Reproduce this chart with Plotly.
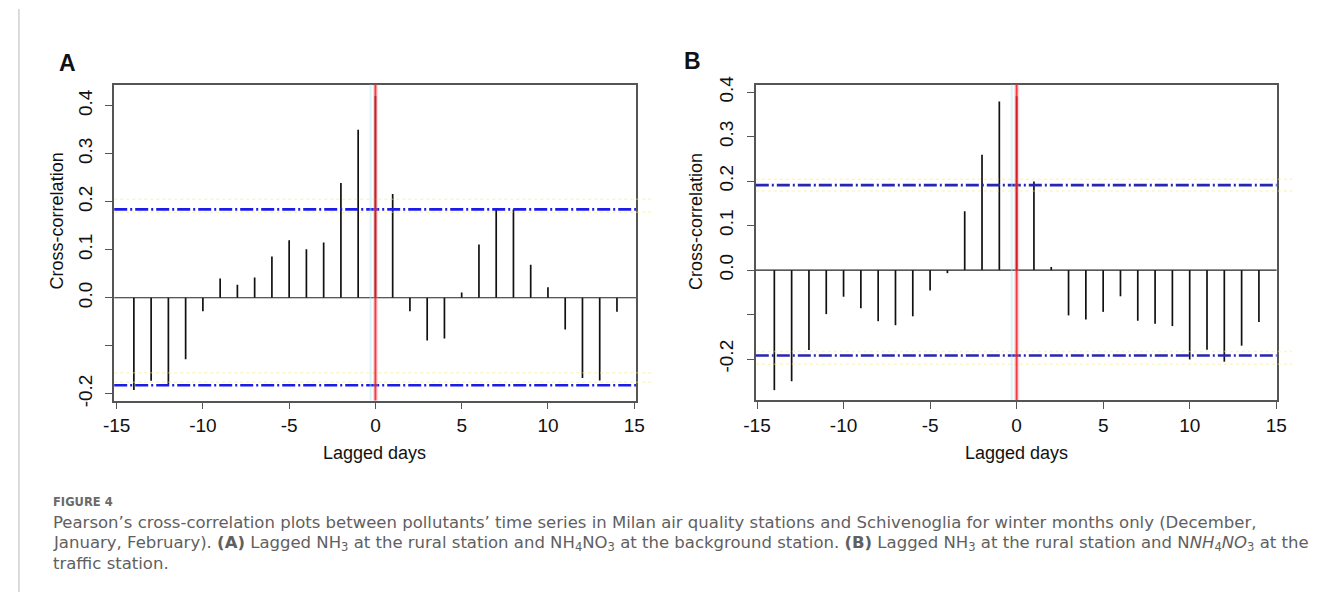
import plotly.graph_objects as go

W, H = 1319, 599

# Lags (days) and cross-correlation coefficients
lags = list(range(-14, 15))

ccf_a = [-0.192, -0.173, -0.180, -0.128, -0.028, 0.040, 0.027, 0.042, 0.086, 0.120,
         0.101, 0.115, 0.239, 0.350, 0.420, 0.216, -0.028, -0.089, -0.085, 0.011,
         0.111, 0.184, 0.184, 0.069, 0.022, -0.066, -0.167, -0.172, -0.029]

ccf_b = [-0.270, -0.250, -0.180, -0.099, -0.060, -0.086, -0.115, -0.124, -0.104, -0.046,
         -0.007, 0.132, 0.259, 0.379, 0.391, 0.199, 0.007, -0.102, -0.111, -0.094,
         -0.059, -0.114, -0.121, -0.126, -0.201, -0.179, -0.206, -0.170, -0.117]

# Significance bounds
ci_a = [0.184, -0.182]
ci_b = [0.191, -0.192]

x_ticks = [-15, -10, -5, 0, 5, 10, 15]
x_ticktext = ["-15", "-10", "-5", "0", "5", "10", "15"]
y_ticks = [-0.2, -0.1, 0.0, 0.1, 0.2, 0.3, 0.4]
y_ticktext = ["-0.2", "", "0.0", "0.1", "0.2", "0.3", "0.4"]


def px_x(p):
    return p / W


def px_y(p):
    return 1 - p / H


def stems(xs, ys):
    sx, sy = [], []
    for x, y in zip(xs, ys):
        sx += [x, x, None]
        sy += [0, y, None]
    return sx, sy


fig = go.Figure()

panels = [
    dict(vals=ccf_a, ci=ci_a, xa="x", ya="y", xdom=(103, 634), ydom=(77.7, 402.3),
         xr=[-15.14, 15.1], yr=[-0.214, 0.4438], blue="#1c1ce8",
         yel=[0.205, 0.178, -0.156, -0.176]),
    dict(vals=ccf_b, ci=ci_b, xa="x2", ya="y2", xdom=(756, 1286), ydom=(77.7, 401.7),
         xr=[-15.07, 15.02], yr=[-0.2921, 0.4169], blue="#2626b0",
         yel=[0.204, 0.178, -0.183, -0.212]),
]

sans = "Liberation Sans, Arial, Helvetica, sans-serif"
font_tick = dict(family=sans, size=19, color="#111")

for i, p in enumerate(panels):
    sx, sy = stems(lags, p["vals"])
    fig.add_trace(go.Scatter(x=sx, y=sy, mode="lines", xaxis=p["xa"], yaxis=p["ya"],
                             line=dict(color="#111", width=1.7), hoverinfo="skip",
                             showlegend=False))
    sfx = "" if i == 0 else "2"
    fig.layout["xaxis" + sfx] = dict(
        domain=[px_x(p["xdom"][0]), px_x(p["xdom"][1])], range=p["xr"],
        anchor="y" + sfx, tickvals=x_ticks, ticktext=x_ticktext, ticks="outside",
        ticklen=7, tickwidth=1, tickcolor="#555", showgrid=False, zeroline=False,
        showline=True, mirror=True, linecolor="#555", linewidth=1.5,
        tickfont=font_tick, fixedrange=True)
    fig.layout["yaxis" + sfx] = dict(
        domain=[px_y(p["ydom"][1]), px_y(p["ydom"][0])], range=p["yr"],
        anchor="x" + sfx, tickvals=y_ticks, ticktext=y_ticktext, tickangle=-90,
        ticks="outside", ticklen=7, tickwidth=1, tickcolor="#555",
        ticklabelstandoff=6, showgrid=False, zeroline=False, showline=True,
        mirror=True, linecolor="#555", linewidth=1.5, tickfont=font_tick,
        fixedrange=True)

    xd = p["xa"] + " domain"
    yd = p["ya"] + " domain"
    # faint yellow halo lines around the bounds
    for yv in p["yel"]:
        fig.add_shape(type="line", xref=xd, yref=p["ya"], x0=0, x1=1.03, y0=yv, y1=yv,
                      line=dict(color="rgba(240,235,140,0.45)", width=1.5, dash="dot"))
    # zero line
    fig.add_shape(type="line", xref=xd, yref=p["ya"], x0=0, x1=1, y0=0, y1=0,
                  line=dict(color="#222", width=1.2))
    # confidence bounds
    for yv in p["ci"]:
        fig.add_shape(type="line", xref=xd, yref=p["ya"], x0=0, x1=1, y0=yv, y1=yv,
                      line=dict(color=p["blue"], width=2.6, dash="13px,3px,2px,3px"))
    # lag-zero marker
    fig.add_shape(type="line", xref=p["xa"], yref=yd, x0=-0.28, x1=-0.28, y0=0, y1=1,
                  line=dict(color="rgba(170,235,250,0.45)", width=2))
    fig.add_shape(type="line", xref=p["xa"], yref=yd, x0=0, x1=0, y0=0, y1=1,
                  line=dict(color="rgba(255,150,150,0.35)", width=5))
    fig.add_shape(type="line", xref=p["xa"], yref=yd, x0=0, x1=0, y0=0, y1=1,
                  line=dict(color="rgba(240,20,30,0.8)", width=2))

# panel letters, axis titles
ann = []
ann.append(dict(text="<b>A</b>", x=px_x(55), y=px_y(55), font=dict(size=23)))
ann.append(dict(text="<b>B</b>", x=px_x(692), y=px_y(53), font=dict(size=23)))
ann.append(dict(text="Cross-correlation", x=px_x(45), y=px_y(218), textangle=-90,
                font=dict(size=18)))
ann.append(dict(text="Cross-correlation", x=px_x(695), y=px_y(218), textangle=-90,
                font=dict(size=18)))
ann.append(dict(text="Lagged days", x=px_x(368), y=px_y(456), font=dict(size=18)))
ann.append(dict(text="Lagged days", x=px_x(1021), y=px_y(456), font=dict(size=18)))
for a in ann:
    a.update(xref="paper", yref="paper", showarrow=False, xanchor="center",
             yanchor="middle")
    a["font"].update(family=sans, color="#111")
    fig.add_annotation(**a)

# caption
cap_font = dict(family="DejaVu Sans, sans-serif", size=16.5, color="#606060")
caption = [
    ("<b>FIGURE 4</b>", 507, dict(family="DejaVu Sans, sans-serif", size=11.5,
                                  color="#6a6a6a")),
    ("Pearson’s cross-correlation plots between pollutants’ time series in Milan air quality "
     "stations and Schivenoglia for winter months only (December,", 528, cap_font),
    ("January, February). <b>(A)</b> Lagged NH<sub>3</sub> at the rural station and "
     "NH<sub>4</sub>NO<sub>3</sub> at the background station. <b>(B)</b> Lagged NH<sub>3</sub> "
     "at the rural station and N<i>NH</i><sub>4</sub><i>NO</i><sub>3</sub> at the", 549, cap_font),
    ("traffic station.", 570, cap_font),
]
for text, yp, f in caption:
    fig.add_annotation(text=text, x=px_x(39), y=px_y(yp), xref="paper", yref="paper",
                       xanchor="left", yanchor="middle", showarrow=False, font=f)

# page border line
fig.add_shape(type="line", xref="paper", yref="paper", x0=px_x(6), x1=px_x(6), y0=0, y1=1,
              line=dict(color="#d0d0d0", width=1.5))

fig.update_layout(width=W, height=H, margin=dict(l=0, r=0, t=0, b=0),
                  paper_bgcolor="white", plot_bgcolor="white", showlegend=False)

fig.write_html("out.html", config={"displayModeBar": False})
